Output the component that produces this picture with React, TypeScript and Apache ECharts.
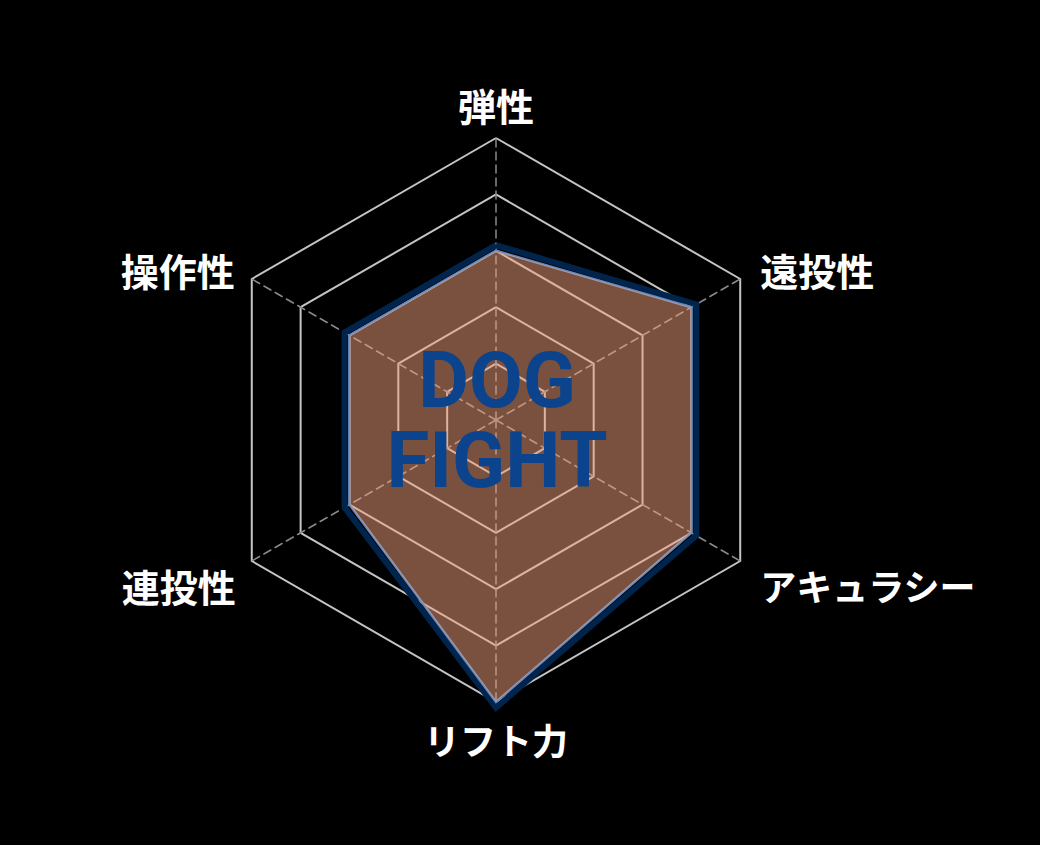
import React, { useEffect, useRef } from 'react';
import * as echarts from 'echarts';

// Indicators in ECharts order (start at top, counter-clockwise)
const indicatorNames = ['弾性', '操作性', '連投性', 'リフト力', 'アキュラシー', '遠投性'];
const indicatorMax = [100, 100, 100, 100, 100, 100];
// Filled model polygon
const mainValues = [60, 60, 60, 100, 80, 80];
// Dark navy outline polygon
const outlineValues = [62, 62, 62, 102, 82, 82];
const titleLines = ['DOG', 'FIGHT'];

const labelKey: Record<string, string> = {
  '弾性': 't',
  '操作性': 'ul',
  '連投性': 'll',
  'リフト力': 'b',
  'アキュラシー': 'lr',
  '遠投性': 'ur',
};

const kanjiFont = {
  color: '#ffffff',
  fontSize: 38,
  fontWeight: 'bold' as const,
  fontFamily: "'Noto Sans CJK JP', 'Noto Sans', sans-serif",
};
const kanaFont = { ...kanjiFont, fontSize: 36 };

export default function App() {
  const ref = useRef<HTMLDivElement>(null);
  useEffect(() => {
    document.body.style.margin = '0';
    document.body.style.background = '#000';
    const chart = echarts.init(ref.current!, undefined, { renderer: 'svg' });
    chart.setOption({
      animation: false,
      backgroundColor: '#000000',
      radar: {
        center: [496, 420],
        radius: 282,
        startAngle: 90,
        splitNumber: 5,
        shape: 'polygon',
        axisNameGap: 15,
        indicator: indicatorNames.map((name, i) => ({ name, min: 0, max: indicatorMax[i] })),
        axisName: {
          ...kanjiFont,
          formatter: (v: string) => `{${labelKey[v] || 't'}|${v}}`,
          rich: {
            t: { ...kanjiFont, padding: [0, 0, 0, 0] },
            b: { ...kanaFont, padding: [4, 0, 0, 0] },
            ur: { ...kanjiFont, padding: [0, 0, 4, 7] },
            lr: { ...kanaFont, padding: [32, 0, 0, 7] },
            ul: { ...kanjiFont, padding: [0, 4, 4, 0] },
            ll: { ...kanjiFont, padding: [33, 3, 0, 0] },
          },
        },
        splitLine: { lineStyle: { color: '#c4c4c4', width: 2 } },
        splitArea: { show: false },
        axisLine: { lineStyle: { color: '#8a8a8a', width: 1.5, type: [8, 5] } },
        axisTick: { show: false },
        axisLabel: { show: false },
      },
      series: [
        {
          type: 'radar',
          symbol: 'none',
          silent: true,
          data: [
            {
              name: 'outline',
              value: outlineValues,
              lineStyle: { color: '#01244d', width: 6, join: 'miter' },
            },
            {
              name: 'DOG FIGHT',
              value: mainValues,
              lineStyle: { color: '#5a8bc6', width: 2.5, join: 'miter' },
              areaStyle: { color: 'rgba(244,160,124,0.5)', opacity: 1 },
            },
          ],
        },
      ],
      graphic: [
        {
          type: 'text',
          x: 497,
          y: 420,
          z: 100,
          style: {
            text: titleLines.join('\n'),
            fill: '#0b438d',
            fontSize: 78,
            lineHeight: 80,
            fontWeight: 'bold',
            fontFamily: 'Roboto, sans-serif',
            align: 'center',
            verticalAlign: 'middle',
          },
        },
      ],
    });
    return () => chart.dispose();
  }, []);
  return <div ref={ref} style={{ width: 1040, height: 845, background: '#000' }} />;
}
